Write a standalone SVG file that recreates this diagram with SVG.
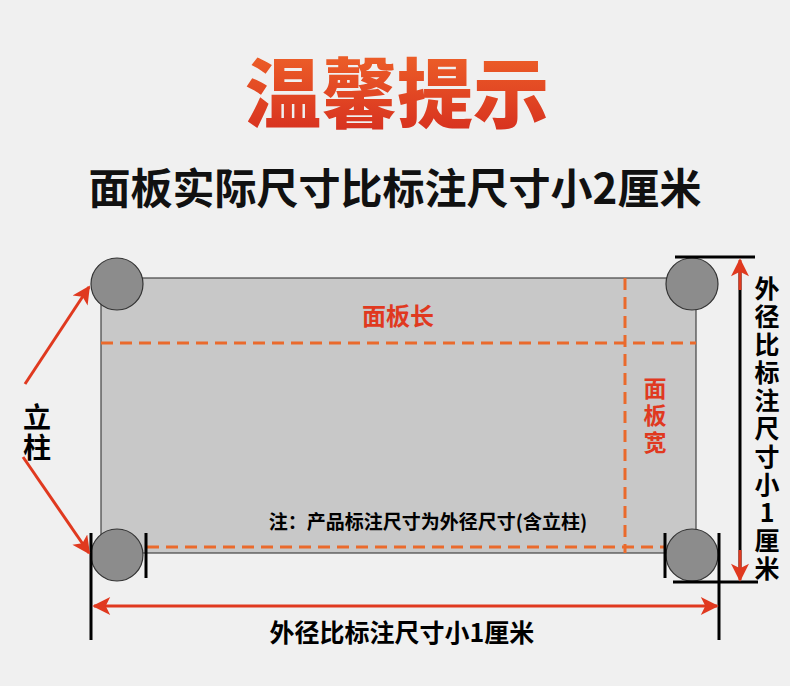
<svg xmlns="http://www.w3.org/2000/svg" width="790" height="686" viewBox="0 0 790 686">
<defs>
<linearGradient id="tg" x1="0" y1="0" x2="0" y2="1"><stop offset="0" stop-color="#f26a2a"/><stop offset="1" stop-color="#d42a1e"/></linearGradient>
<marker id="ar" viewBox="0 0 10 10" refX="9" refY="5" markerWidth="7" markerHeight="6" orient="auto-start-reverse"><path d="M0,0L10,5L0,10L2.5,5Z" fill="#e0391f"/></marker>
<style>
text{font-family:"Noto Sans CJK SC","Noto Sans",sans-serif}
.v{writing-mode:vertical-rl;text-orientation:upright}
.dash{stroke:#ea6a2c;stroke-width:3;stroke-dasharray:12,7;fill:none}
.blk{stroke:#000;stroke-width:3}
.post{fill:#8c8c8c;stroke:#333;stroke-width:1.2}
.red{fill:#e0391f;font-weight:bold}
.ra{stroke:#e0391f;stroke-width:3;fill:none}
</style>
</defs>
<rect width="790" height="686" fill="#f0f0f0"/>
<text x="397" y="122" font-size="76" font-weight="900" fill="url(#tg)" text-anchor="middle">温馨提示</text>
<text x="395" y="204" font-size="42" font-weight="bold" fill="#111" text-anchor="middle">面板实际尺寸比标注尺寸小2厘米</text>
<g id="panel"><rect x="101" y="278" width="595" height="275" fill="#c8c8c8" stroke="#444" stroke-width="1.2"/></g>
<g id="dashes">
<path class="dash" d="M101,343H696M625,278V553M147,547H665"/>
</g>
<g id="posts">
<circle class="post" cx="117" cy="284" r="26"/>
<circle class="post" cx="692" cy="284" r="26"/>
<circle class="post" cx="117" cy="555" r="26"/>
<circle class="post" cx="692" cy="555" r="26"/>
</g>
<g id="connectors">
<path class="blk" d="M91,533V640M146,533V578M665,533V578M719,533V640M675,257H755M673,582H758" fill="none"/>
<line x1="740" y1="262" x2="740" y2="578" stroke="#000" stroke-width="3"/>
<line x1="740" y1="260" x2="740" y2="290" class="ra" marker-start="url(#ar)"/>
<line x1="740" y1="550" x2="740" y2="580" class="ra" marker-end="url(#ar)"/>
<line x1="94" y1="606" x2="717" y2="606" class="ra" marker-start="url(#ar)" marker-end="url(#ar)"/>
<line x1="25" y1="384" x2="89" y2="287" class="ra" marker-end="url(#ar)"/>
<line x1="23" y1="457" x2="89" y2="553" class="ra" marker-end="url(#ar)"/>
</g>
<g id="labels">
<text x="37" y="433" class="v" font-size="28" font-weight="bold" text-anchor="middle" letter-spacing="2">立柱</text>
<text x="398" y="325" font-size="24" class="red" text-anchor="middle">面板长</text>
<text x="655" y="417" class="v red" font-size="23" text-anchor="middle" letter-spacing="4">面板宽</text>
<text x="428" y="529" font-size="19" font-weight="bold" text-anchor="middle">注：产品标注尺寸为外径尺寸(含立柱)</text>
<text x="402" y="642" font-size="25" font-weight="bold" text-anchor="middle">外径比标注尺寸小1厘米</text>
<text x="767" y="430" class="v" font-size="25" font-weight="bold" text-anchor="middle" letter-spacing="3">外径比标注尺寸小1厘米</text>
</g>
</svg>
